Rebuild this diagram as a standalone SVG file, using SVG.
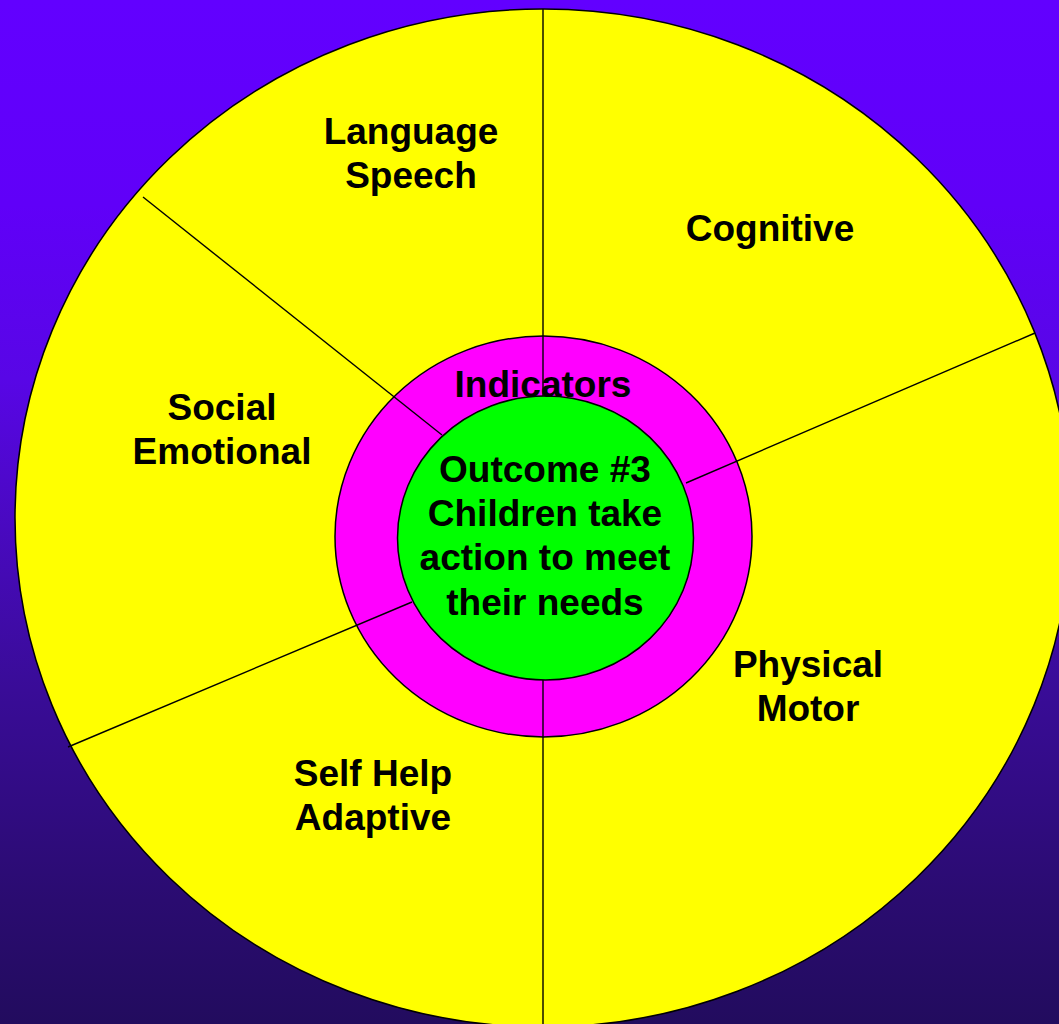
<svg xmlns="http://www.w3.org/2000/svg" width="1059" height="1024" viewBox="0 0 1059 1024">
  <defs>
    <linearGradient id="bg" x1="0" y1="0" x2="0" y2="1">
      <stop offset="0" stop-color="#6200FF"/>
      <stop offset="0.2" stop-color="#6000F8"/>
      <stop offset="0.37" stop-color="#5806E6"/>
      <stop offset="0.66" stop-color="#3A0C9A"/>
      <stop offset="0.88" stop-color="#2A0C70"/>
      <stop offset="1" stop-color="#220C5E"/>
    </linearGradient>
  </defs>
  <style>
    .lbl { font-family: "Liberation Sans", Arial, sans-serif; font-weight: bold; font-size: 37px; fill: #000; text-anchor: middle; }
    .shape { stroke: #000; stroke-width: 1.5; }
    .conn { stroke: #000; stroke-width: 1.4; fill: none; }
  </style>
  <rect x="0" y="0" width="1059" height="1024" fill="url(#bg)"/>

  <g id="outer-wheel">
    <ellipse class="shape" cx="543" cy="518" rx="528" ry="509" fill="#FFFF00"/>
  </g>
  <g id="indicators-ring">
    <ellipse class="shape" cx="543.5" cy="536.5" rx="208.5" ry="200.5" fill="#FF00FF"/>
  </g>

  <g id="connectors">
    <line class="conn" x1="543" y1="9" x2="543" y2="396"/>
    <line class="conn" x1="543" y1="680" x2="543" y2="1030"/>
    <line class="conn" x1="143" y1="197" x2="442" y2="435"/>
    <line class="conn" x1="1035" y1="333" x2="686" y2="483"/>
    <line class="conn" x1="68" y1="747" x2="412" y2="602"/>
  </g>

  <g id="outcome-center">
    <ellipse class="shape" cx="545.5" cy="538" rx="148" ry="142" fill="#00FF00"/>
    <text class="lbl" x="545" y="482">Outcome #3</text>
    <text class="lbl" x="545" y="526">Children take</text>
    <text class="lbl" x="545" y="570">action to meet</text>
    <text class="lbl" x="545" y="615">their needs</text>
  </g>

  <g id="indicators-label">
    <text class="lbl" x="543" y="397">Indicators</text>
  </g>
  <g id="language-speech">
    <text class="lbl" x="411" y="144">Language</text>
    <text class="lbl" x="411" y="188">Speech</text>
  </g>
  <g id="cognitive">
    <text class="lbl" x="770" y="241">Cognitive</text>
  </g>
  <g id="social-emotional">
    <text class="lbl" x="222" y="420">Social</text>
    <text class="lbl" x="222" y="464">Emotional</text>
  </g>
  <g id="physical-motor">
    <text class="lbl" x="808" y="677">Physical</text>
    <text class="lbl" x="808" y="721">Motor</text>
  </g>
  <g id="self-help-adaptive">
    <text class="lbl" x="373" y="786">Self Help</text>
    <text class="lbl" x="373" y="830">Adaptive</text>
  </g>
</svg>
